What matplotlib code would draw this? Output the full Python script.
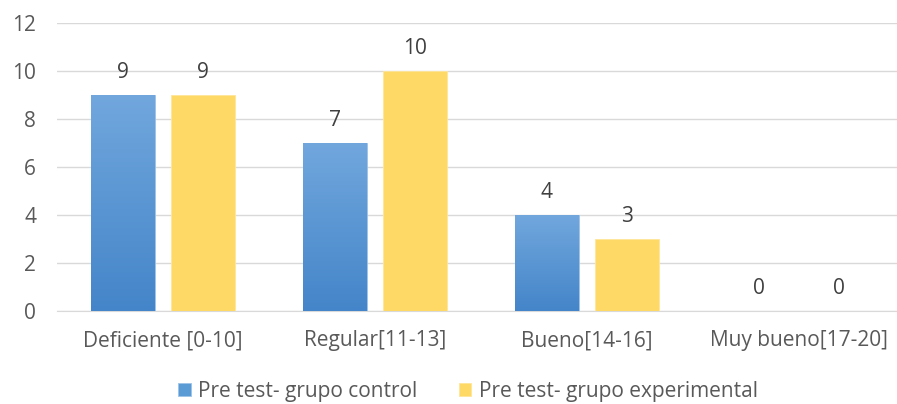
import numpy as np
import matplotlib.pyplot as plt
from matplotlib.colors import LinearSegmentedColormap

# datos
categorias = ['Deficiente [0-10]', 'Regular[11-13]', 'Bueno[14-16]', 'Muy bueno[17-20]']
control = [9, 7, 4, 0]
experimental = [9, 10, 3, 0]
series = ['Pre test- grupo control', 'Pre test- grupo experimental']

plt.rcParams['font.family'] = ['Open Sans', 'DejaVu Sans']

fig = plt.figure(figsize=(8.97, 4.04), dpi=100)
ax = fig.add_axes([57 / 897, 1 - 311 / 404, 848 / 897, 288 / 404])

x = np.arange(len(categorias))
w = 0.30
off = 0.19
b1 = ax.bar(x - off, control, w, color='#5B9BD5', edgecolor='#9DC3E6', linewidth=0.6,
            zorder=3, label=series[0])
b2 = ax.bar(x + off, experimental, w, color='#FFD966', edgecolor='#FFE699', linewidth=0.6,
            zorder=3, label=series[1])

# degradado en las barras azules
cmap = LinearSegmentedColormap.from_list('azul', ['#4485C9', '#71A7DD'])
grad = np.linspace(0, 1, 256).reshape(-1, 1)
for p in b1:
    if p.get_height() <= 0:
        continue
    x0, y0 = p.get_x(), p.get_y()
    im = ax.imshow(grad, cmap=cmap, origin='lower', aspect='auto', zorder=3.5,
                   extent=[x0, x0 + p.get_width(), y0, y0 + p.get_height()])
    im.set_clip_path(p)

fs = 15
for bars in (b1, b2):
    for p in bars:
        ax.annotate(f'{p.get_height():g}', (p.get_x() + p.get_width() / 2, p.get_height()),
                    xytext=(0, 9), textcoords='offset points', ha='center', va='bottom',
                    fontsize=fs, color='#404040')

ax.set_xlim(-0.5, len(categorias) - 0.5)
ax.set_ylim(0, 12)
ax.set_yticks(range(0, 13, 2))
ax.set_xticks(x)
ax.set_xticklabels(categorias)
ax.tick_params(axis='both', length=0, labelsize=fs, labelcolor='#595959')
ax.tick_params(axis='y', pad=15)
ax.tick_params(axis='x', pad=14)
ax.grid(axis='y', color='#D9D9D9', linewidth=1, zorder=0)
for s in ['top', 'right', 'left']:
    ax.spines[s].set_visible(False)
ax.spines['bottom'].set_color('#D9D9D9')
ax.set_axisbelow(True)

ax.legend(loc='center', bbox_to_anchor=(468 / 897, 1 - 391 / 404), bbox_transform=fig.transFigure,
          ncol=2, frameon=False, fontsize=fs, labelcolor='#595959', handlelength=0.6,
          handleheight=0.6, handletextpad=0.35, columnspacing=2.0)

fig.savefig('out.png', dpi=100)
